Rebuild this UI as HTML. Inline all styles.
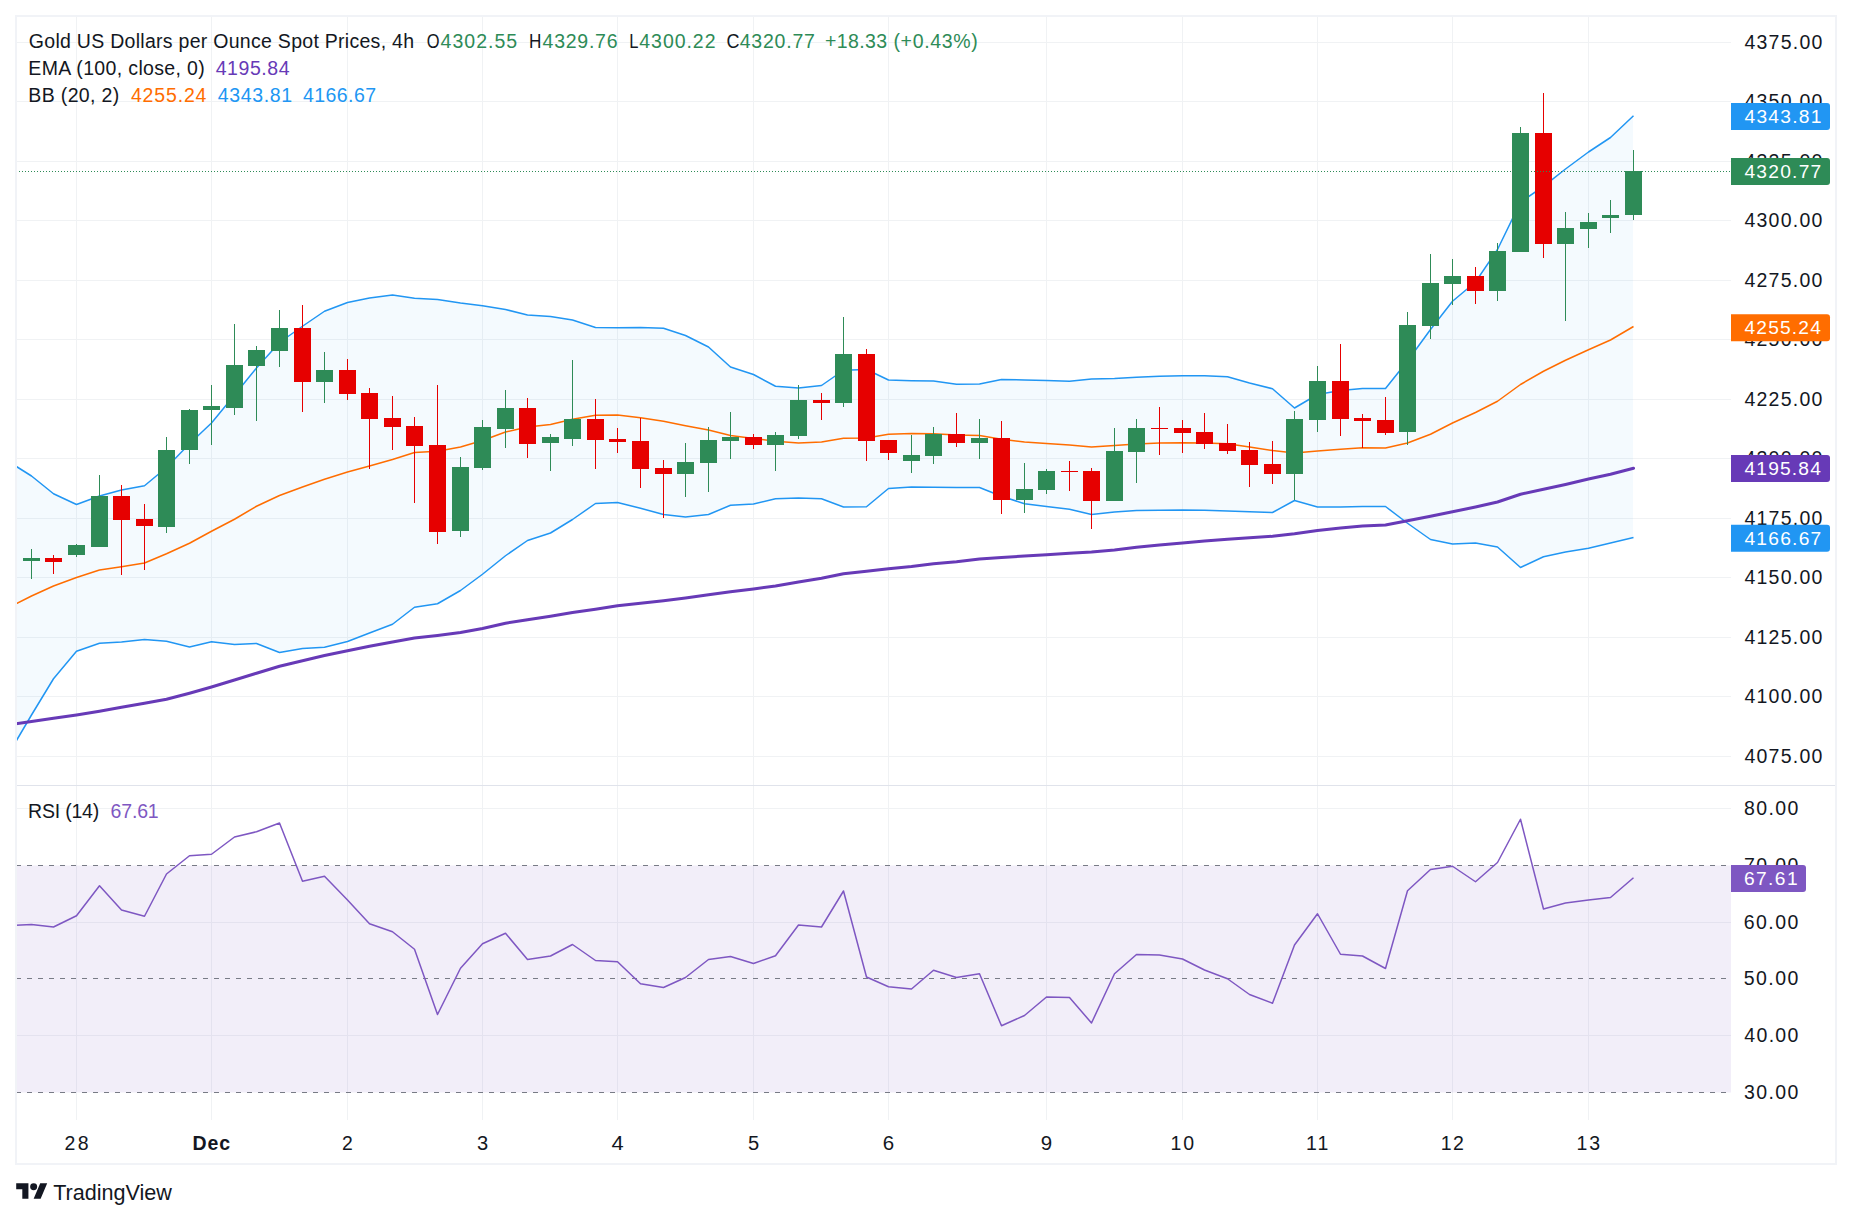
<!DOCTYPE html>
<html lang="en"><head><meta charset="utf-8"><title>Gold US Dollars per Ounce Spot Prices, 4h</title>
<style>
html,body{margin:0;padding:0;background:#fff;}
body{width:1852px;height:1220px;overflow:hidden;}
svg{display:block;}
text{font-family:"Liberation Sans", sans-serif;}
</style></head><body>
<svg width="1852" height="1220" viewBox="0 0 1852 1220">
<rect width="1852" height="1220" fill="#fff"/>
<defs>
<clipPath id="cm"><rect x="16" y="16" width="1715" height="769"/></clipPath>
<clipPath id="cr"><rect x="16" y="786" width="1715" height="334"/></clipPath>
</defs>

<g stroke="#f0f2f4" stroke-width="1" shape-rendering="crispEdges">
<line x1="76.5" y1="16" x2="76.5" y2="1120"/>
<line x1="211.5" y1="16" x2="211.5" y2="1120"/>
<line x1="347.5" y1="16" x2="347.5" y2="1120"/>
<line x1="482.5" y1="16" x2="482.5" y2="1120"/>
<line x1="617.5" y1="16" x2="617.5" y2="1120"/>
<line x1="753.5" y1="16" x2="753.5" y2="1120"/>
<line x1="888.5" y1="16" x2="888.5" y2="1120"/>
<line x1="1046.5" y1="16" x2="1046.5" y2="1120"/>
<line x1="1182.5" y1="16" x2="1182.5" y2="1120"/>
<line x1="1317.5" y1="16" x2="1317.5" y2="1120"/>
<line x1="1452.5" y1="16" x2="1452.5" y2="1120"/>
<line x1="1588.5" y1="16" x2="1588.5" y2="1120"/>
<line x1="16" y1="42.5" x2="1731" y2="42.5"/>
<line x1="16" y1="101.5" x2="1731" y2="101.5"/>
<line x1="16" y1="161.5" x2="1731" y2="161.5"/>
<line x1="16" y1="220.5" x2="1731" y2="220.5"/>
<line x1="16" y1="280.5" x2="1731" y2="280.5"/>
<line x1="16" y1="339.5" x2="1731" y2="339.5"/>
<line x1="16" y1="399.5" x2="1731" y2="399.5"/>
<line x1="16" y1="458.5" x2="1731" y2="458.5"/>
<line x1="16" y1="518.5" x2="1731" y2="518.5"/>
<line x1="16" y1="577.5" x2="1731" y2="577.5"/>
<line x1="16" y1="637.5" x2="1731" y2="637.5"/>
<line x1="16" y1="696.5" x2="1731" y2="696.5"/>
<line x1="16" y1="756.5" x2="1731" y2="756.5"/>
<line x1="16" y1="808.5" x2="1731" y2="808.5"/>
<line x1="16" y1="922.5" x2="1731" y2="922.5"/>
<line x1="16" y1="1035.5" x2="1731" y2="1035.5"/>
</g>
<g clip-path="url(#cm)">
<polygon points="16.00,466.25 31.50,476.00 53.50,493.75 76.50,504.50 99.50,496.00 121.50,490.00 144.50,485.75 166.50,467.50 189.50,443.75 211.50,423.00 234.50,395.00 256.50,368.00 279.50,342.50 302.50,326.25 324.50,311.25 347.50,302.50 369.50,298.00 392.50,295.00 414.50,298.25 437.50,299.50 460.50,303.00 482.50,305.75 505.50,309.50 527.50,315.00 550.50,316.50 572.50,320.00 595.50,327.50 617.50,327.75 640.50,327.50 663.50,328.25 685.50,335.50 708.50,347.00 730.50,367.00 753.50,374.50 775.50,386.25 798.50,388.00 821.50,385.50 843.50,370.25 866.50,369.50 888.50,380.00 911.50,380.75 933.50,381.00 956.50,384.25 979.50,384.00 1001.50,379.50 1024.50,380.00 1046.50,380.50 1069.50,381.25 1091.50,379.00 1114.50,378.50 1136.50,377.25 1159.50,376.25 1182.50,375.75 1204.50,375.75 1227.50,376.75 1249.50,383.00 1272.50,388.75 1294.50,408.00 1317.50,394.50 1340.50,390.50 1362.50,388.50 1385.50,388.50 1407.50,361.00 1430.50,329.50 1452.50,301.25 1475.50,282.00 1497.50,249.50 1520.50,202.20 1543.50,186.30 1565.50,169.00 1588.50,152.00 1610.50,137.50 1633.00,115.75 1633.00,537.50 1610.50,543.00 1588.50,548.25 1565.50,552.00 1543.50,556.75 1520.50,567.50 1497.50,547.00 1475.50,543.00 1452.50,544.00 1430.50,539.50 1407.50,523.25 1385.50,506.50 1362.50,506.50 1340.50,507.00 1317.50,507.00 1294.50,500.50 1272.50,512.50 1249.50,511.75 1227.50,511.00 1204.50,510.25 1182.50,510.00 1159.50,510.25 1136.50,510.50 1114.50,512.00 1091.50,514.50 1069.50,509.25 1046.50,506.50 1024.50,503.75 1001.50,496.25 979.50,487.50 956.50,487.50 933.50,487.25 911.50,487.00 888.50,488.50 866.50,506.75 843.50,507.00 821.50,498.75 798.50,498.00 775.50,498.75 753.50,504.00 730.50,505.25 708.50,514.50 685.50,517.00 663.50,514.50 640.50,508.25 617.50,502.50 595.50,503.50 572.50,519.50 550.50,533.00 527.50,540.50 505.50,555.75 482.50,574.25 460.50,590.50 437.50,603.75 414.50,607.25 392.50,624.25 369.50,633.00 347.50,641.50 324.50,647.25 302.50,648.50 279.50,652.50 256.50,643.50 234.50,644.50 211.50,641.75 189.50,647.00 166.50,641.25 144.50,639.50 121.50,642.00 99.50,643.25 76.50,651.25 53.50,678.75 31.50,715.00 16.00,741.25" fill="#2196f3" fill-opacity="0.05"/>
<polyline points="16.00,603.75 31.50,596.00 53.50,586.00 76.50,577.50 99.50,570.00 121.50,566.75 144.50,563.00 166.50,553.75 189.50,543.25 211.50,531.25 234.50,519.25 256.50,506.25 279.50,495.50 302.50,487.00 324.50,479.25 347.50,472.00 369.50,466.00 392.50,459.50 414.50,452.50 437.50,451.25 460.50,447.00 482.50,440.50 505.50,432.00 527.50,427.00 550.50,424.50 572.50,419.25 595.50,415.25 617.50,415.00 640.50,417.75 663.50,421.25 685.50,425.75 708.50,430.00 730.50,435.50 753.50,438.50 775.50,441.25 798.50,443.00 821.50,442.00 843.50,438.25 866.50,438.00 888.50,434.25 911.50,433.50 933.50,433.75 956.50,435.00 979.50,435.50 1001.50,439.25 1024.50,442.00 1046.50,443.50 1069.50,445.00 1091.50,447.00 1114.50,445.50 1136.50,444.00 1159.50,443.00 1182.50,442.75 1204.50,443.00 1227.50,443.75 1249.50,447.00 1272.50,450.50 1294.50,453.00 1317.50,451.00 1340.50,449.25 1362.50,447.75 1385.50,448.00 1407.50,443.00 1430.50,434.25 1452.50,423.00 1475.50,412.50 1497.50,401.25 1520.50,384.50 1543.50,371.25 1565.50,360.25 1588.50,349.75 1610.50,340.00 1633.50,326.50" fill="none" stroke="#ff6d00" stroke-width="1.5" stroke-linejoin="round"/>
<polyline points="16.00,466.25 31.50,476.00 53.50,493.75 76.50,504.50 99.50,496.00 121.50,490.00 144.50,485.75 166.50,467.50 189.50,443.75 211.50,423.00 234.50,395.00 256.50,368.00 279.50,342.50 302.50,326.25 324.50,311.25 347.50,302.50 369.50,298.00 392.50,295.00 414.50,298.25 437.50,299.50 460.50,303.00 482.50,305.75 505.50,309.50 527.50,315.00 550.50,316.50 572.50,320.00 595.50,327.50 617.50,327.75 640.50,327.50 663.50,328.25 685.50,335.50 708.50,347.00 730.50,367.00 753.50,374.50 775.50,386.25 798.50,388.00 821.50,385.50 843.50,370.25 866.50,369.50 888.50,380.00 911.50,380.75 933.50,381.00 956.50,384.25 979.50,384.00 1001.50,379.50 1024.50,380.00 1046.50,380.50 1069.50,381.25 1091.50,379.00 1114.50,378.50 1136.50,377.25 1159.50,376.25 1182.50,375.75 1204.50,375.75 1227.50,376.75 1249.50,383.00 1272.50,388.75 1294.50,408.00 1317.50,394.50 1340.50,390.50 1362.50,388.50 1385.50,388.50 1407.50,361.00 1430.50,329.50 1452.50,301.25 1475.50,282.00 1497.50,249.50 1520.50,202.20 1543.50,186.30 1565.50,169.00 1588.50,152.00 1610.50,137.50 1633.50,115.75" fill="none" stroke="#2196f3" stroke-width="1.5" stroke-linejoin="round"/>
<polyline points="16.00,741.25 31.50,715.00 53.50,678.75 76.50,651.25 99.50,643.25 121.50,642.00 144.50,639.50 166.50,641.25 189.50,647.00 211.50,641.75 234.50,644.50 256.50,643.50 279.50,652.50 302.50,648.50 324.50,647.25 347.50,641.50 369.50,633.00 392.50,624.25 414.50,607.25 437.50,603.75 460.50,590.50 482.50,574.25 505.50,555.75 527.50,540.50 550.50,533.00 572.50,519.50 595.50,503.50 617.50,502.50 640.50,508.25 663.50,514.50 685.50,517.00 708.50,514.50 730.50,505.25 753.50,504.00 775.50,498.75 798.50,498.00 821.50,498.75 843.50,507.00 866.50,506.75 888.50,488.50 911.50,487.00 933.50,487.25 956.50,487.50 979.50,487.50 1001.50,496.25 1024.50,503.75 1046.50,506.50 1069.50,509.25 1091.50,514.50 1114.50,512.00 1136.50,510.50 1159.50,510.25 1182.50,510.00 1204.50,510.25 1227.50,511.00 1249.50,511.75 1272.50,512.50 1294.50,500.50 1317.50,507.00 1340.50,507.00 1362.50,506.50 1385.50,506.50 1407.50,523.25 1430.50,539.50 1452.50,544.00 1475.50,543.00 1497.50,547.00 1520.50,567.50 1543.50,556.75 1565.50,552.00 1588.50,548.25 1610.50,543.00 1633.50,537.50" fill="none" stroke="#2196f3" stroke-width="1.5" stroke-linejoin="round"/>
<polyline points="16.00,723.75 31.50,721.50 53.50,718.25 76.50,715.00 99.50,711.25 121.50,707.25 144.50,703.25 166.50,699.25 189.50,693.25 211.50,687.00 234.50,680.00 256.50,673.25 279.50,666.25 302.50,660.75 324.50,655.50 347.50,650.75 369.50,646.25 392.50,642.00 414.50,638.00 437.50,635.50 460.50,632.50 482.50,628.50 505.50,623.25 527.50,619.75 550.50,616.25 572.50,612.50 595.50,609.25 617.50,605.75 640.50,603.25 663.50,600.75 685.50,598.00 708.50,594.75 730.50,591.75 753.50,589.00 775.50,586.00 798.50,582.00 821.50,578.25 843.50,573.75 866.50,571.25 888.50,568.75 911.50,566.50 933.50,563.75 956.50,561.75 979.50,559.00 1001.50,557.50 1024.50,556.00 1046.50,554.75 1069.50,553.25 1091.50,552.00 1114.50,550.00 1136.50,547.25 1159.50,545.00 1182.50,543.00 1204.50,541.00 1227.50,539.25 1249.50,537.75 1272.50,536.25 1294.50,533.75 1317.50,530.50 1340.50,528.00 1362.50,526.00 1385.50,525.00 1407.50,520.75 1430.50,516.25 1452.50,511.75 1475.50,507.00 1497.50,502.00 1520.50,494.25 1543.50,489.25 1565.50,484.50 1588.50,479.00 1610.50,474.25 1633.50,468.25" fill="none" stroke="#673ab7" stroke-width="3" stroke-linejoin="round" stroke-linecap="round"/>
<g shape-rendering="crispEdges">
<rect x="31.0" y="549" width="1" height="29.75" fill="#2e8b57"/>
<rect x="23.0" y="558" width="17" height="3" fill="#2e8b57"/>
<rect x="53.0" y="555" width="1" height="19" fill="#e60000"/>
<rect x="45.0" y="558" width="17" height="4" fill="#e60000"/>
<rect x="76.0" y="543.75" width="1" height="13.25" fill="#2e8b57"/>
<rect x="68.0" y="545" width="17" height="10" fill="#2e8b57"/>
<rect x="99.0" y="475" width="1" height="72" fill="#2e8b57"/>
<rect x="91.0" y="496" width="17" height="51" fill="#2e8b57"/>
<rect x="121.0" y="485" width="1" height="90" fill="#e60000"/>
<rect x="113.0" y="496" width="17" height="24" fill="#e60000"/>
<rect x="144.0" y="504" width="1" height="66" fill="#e60000"/>
<rect x="136.0" y="519" width="17" height="7" fill="#e60000"/>
<rect x="166.0" y="437" width="1" height="96" fill="#2e8b57"/>
<rect x="158.0" y="450" width="17" height="77" fill="#2e8b57"/>
<rect x="189.0" y="409" width="1" height="55" fill="#2e8b57"/>
<rect x="181.0" y="410" width="17" height="40" fill="#2e8b57"/>
<rect x="211.0" y="385" width="1" height="60" fill="#2e8b57"/>
<rect x="203.0" y="406" width="17" height="4" fill="#2e8b57"/>
<rect x="234.0" y="324" width="1" height="91" fill="#2e8b57"/>
<rect x="226.0" y="365" width="17" height="43" fill="#2e8b57"/>
<rect x="256.0" y="346" width="1" height="75" fill="#2e8b57"/>
<rect x="248.0" y="350" width="17" height="16" fill="#2e8b57"/>
<rect x="279.0" y="310" width="1" height="57" fill="#2e8b57"/>
<rect x="271.0" y="328" width="17" height="23" fill="#2e8b57"/>
<rect x="302.0" y="305" width="1" height="107" fill="#e60000"/>
<rect x="294.0" y="328" width="17" height="54" fill="#e60000"/>
<rect x="324.0" y="352" width="1" height="51" fill="#2e8b57"/>
<rect x="316.0" y="370" width="17" height="12" fill="#2e8b57"/>
<rect x="347.0" y="359" width="1" height="41" fill="#e60000"/>
<rect x="339.0" y="370" width="17" height="24" fill="#e60000"/>
<rect x="369.0" y="388" width="1" height="81" fill="#e60000"/>
<rect x="361.0" y="393" width="17" height="26" fill="#e60000"/>
<rect x="392.0" y="396" width="1" height="54" fill="#e60000"/>
<rect x="384.0" y="418" width="17" height="9" fill="#e60000"/>
<rect x="414.0" y="417" width="1" height="86" fill="#e60000"/>
<rect x="406.0" y="426" width="17" height="20" fill="#e60000"/>
<rect x="437.0" y="385" width="1" height="159" fill="#e60000"/>
<rect x="429.0" y="445" width="17" height="87" fill="#e60000"/>
<rect x="460.0" y="457" width="1" height="80" fill="#2e8b57"/>
<rect x="452.0" y="467" width="17" height="64" fill="#2e8b57"/>
<rect x="482.0" y="420" width="1" height="50" fill="#2e8b57"/>
<rect x="474.0" y="427" width="17" height="41" fill="#2e8b57"/>
<rect x="505.0" y="390" width="1" height="58" fill="#2e8b57"/>
<rect x="497.0" y="408" width="17" height="21" fill="#2e8b57"/>
<rect x="527.0" y="398" width="1" height="60" fill="#e60000"/>
<rect x="519.0" y="408" width="17" height="36" fill="#e60000"/>
<rect x="550.0" y="434" width="1" height="37" fill="#2e8b57"/>
<rect x="542.0" y="437" width="17" height="6" fill="#2e8b57"/>
<rect x="572.0" y="360" width="1" height="86" fill="#2e8b57"/>
<rect x="564.0" y="419" width="17" height="20" fill="#2e8b57"/>
<rect x="595.0" y="399" width="1" height="70" fill="#e60000"/>
<rect x="587.0" y="419" width="17" height="21" fill="#e60000"/>
<rect x="617.0" y="428" width="1" height="25" fill="#e60000"/>
<rect x="609.0" y="439" width="17" height="3" fill="#e60000"/>
<rect x="640.0" y="418" width="1" height="70" fill="#e60000"/>
<rect x="632.0" y="441" width="17" height="28" fill="#e60000"/>
<rect x="663.0" y="460" width="1" height="58" fill="#e60000"/>
<rect x="655.0" y="468" width="17" height="6" fill="#e60000"/>
<rect x="685.0" y="443" width="1" height="54" fill="#2e8b57"/>
<rect x="677.0" y="462" width="17" height="12" fill="#2e8b57"/>
<rect x="708.0" y="427" width="1" height="65" fill="#2e8b57"/>
<rect x="700.0" y="440" width="17" height="23" fill="#2e8b57"/>
<rect x="730.0" y="412" width="1" height="47" fill="#2e8b57"/>
<rect x="722.0" y="437" width="17" height="4" fill="#2e8b57"/>
<rect x="753.0" y="434" width="1" height="15" fill="#e60000"/>
<rect x="745.0" y="437" width="17" height="8" fill="#e60000"/>
<rect x="775.0" y="432" width="1" height="39" fill="#2e8b57"/>
<rect x="767.0" y="435" width="17" height="10" fill="#2e8b57"/>
<rect x="798.0" y="385" width="1" height="54" fill="#2e8b57"/>
<rect x="790.0" y="400" width="17" height="36" fill="#2e8b57"/>
<rect x="821.0" y="393" width="1" height="27" fill="#e60000"/>
<rect x="813.0" y="400" width="17" height="3" fill="#e60000"/>
<rect x="843.0" y="317" width="1" height="90" fill="#2e8b57"/>
<rect x="835.0" y="354" width="17" height="49" fill="#2e8b57"/>
<rect x="866.0" y="349" width="1" height="112" fill="#e60000"/>
<rect x="858.0" y="354" width="17" height="87" fill="#e60000"/>
<rect x="888.0" y="440" width="1" height="20" fill="#e60000"/>
<rect x="880.0" y="440" width="17" height="13" fill="#e60000"/>
<rect x="911.0" y="435" width="1" height="38" fill="#2e8b57"/>
<rect x="903.0" y="455" width="17" height="6" fill="#2e8b57"/>
<rect x="933.0" y="427" width="1" height="37" fill="#2e8b57"/>
<rect x="925.0" y="434" width="17" height="22" fill="#2e8b57"/>
<rect x="956.0" y="413" width="1" height="34" fill="#e60000"/>
<rect x="948.0" y="434" width="17" height="9" fill="#e60000"/>
<rect x="979.0" y="419" width="1" height="40" fill="#2e8b57"/>
<rect x="971.0" y="438" width="17" height="5" fill="#2e8b57"/>
<rect x="1001.0" y="421" width="1" height="93" fill="#e60000"/>
<rect x="993.0" y="438" width="17" height="62" fill="#e60000"/>
<rect x="1024.0" y="463" width="1" height="50" fill="#2e8b57"/>
<rect x="1016.0" y="489" width="17" height="11" fill="#2e8b57"/>
<rect x="1046.0" y="469" width="1" height="25" fill="#2e8b57"/>
<rect x="1038.0" y="471" width="17" height="19" fill="#2e8b57"/>
<rect x="1069.0" y="461" width="1" height="30" fill="#e60000"/>
<rect x="1061.0" y="471" width="17" height="1" fill="#e60000"/>
<rect x="1091.0" y="468" width="1" height="61" fill="#e60000"/>
<rect x="1083.0" y="471" width="17" height="30" fill="#e60000"/>
<rect x="1114.0" y="428" width="1" height="73" fill="#2e8b57"/>
<rect x="1106.0" y="451" width="17" height="50" fill="#2e8b57"/>
<rect x="1136.0" y="419" width="1" height="64" fill="#2e8b57"/>
<rect x="1128.0" y="428" width="17" height="24" fill="#2e8b57"/>
<rect x="1159.0" y="407" width="1" height="48" fill="#e60000"/>
<rect x="1151.0" y="428" width="17" height="1" fill="#e60000"/>
<rect x="1182.0" y="420" width="1" height="33" fill="#e60000"/>
<rect x="1174.0" y="428" width="17" height="5" fill="#e60000"/>
<rect x="1204.0" y="413" width="1" height="36" fill="#e60000"/>
<rect x="1196.0" y="432" width="17" height="12" fill="#e60000"/>
<rect x="1227.0" y="424" width="1" height="30" fill="#e60000"/>
<rect x="1219.0" y="443" width="17" height="8" fill="#e60000"/>
<rect x="1249.0" y="442" width="1" height="45" fill="#e60000"/>
<rect x="1241.0" y="450" width="17" height="15" fill="#e60000"/>
<rect x="1272.0" y="441" width="1" height="43" fill="#e60000"/>
<rect x="1264.0" y="464" width="17" height="10" fill="#e60000"/>
<rect x="1294.0" y="411" width="1" height="89" fill="#2e8b57"/>
<rect x="1286.0" y="419" width="17" height="55" fill="#2e8b57"/>
<rect x="1317.0" y="366" width="1" height="66" fill="#2e8b57"/>
<rect x="1309.0" y="381" width="17" height="39" fill="#2e8b57"/>
<rect x="1340.0" y="344" width="1" height="92" fill="#e60000"/>
<rect x="1332.0" y="381" width="17" height="38" fill="#e60000"/>
<rect x="1362.0" y="414" width="1" height="34" fill="#e60000"/>
<rect x="1354.0" y="418" width="17" height="3" fill="#e60000"/>
<rect x="1385.0" y="397" width="1" height="38" fill="#e60000"/>
<rect x="1377.0" y="420" width="17" height="13" fill="#e60000"/>
<rect x="1407.0" y="312" width="1" height="133" fill="#2e8b57"/>
<rect x="1399.0" y="325" width="17" height="107" fill="#2e8b57"/>
<rect x="1430.0" y="254" width="1" height="85" fill="#2e8b57"/>
<rect x="1422.0" y="283" width="17" height="43" fill="#2e8b57"/>
<rect x="1452.0" y="259" width="1" height="46" fill="#2e8b57"/>
<rect x="1444.0" y="276" width="17" height="8" fill="#2e8b57"/>
<rect x="1475.0" y="267" width="1" height="37" fill="#e60000"/>
<rect x="1467.0" y="276" width="17" height="15" fill="#e60000"/>
<rect x="1497.0" y="243" width="1" height="58" fill="#2e8b57"/>
<rect x="1489.0" y="251" width="17" height="40" fill="#2e8b57"/>
<rect x="1520.0" y="127" width="1" height="125" fill="#2e8b57"/>
<rect x="1512.0" y="133" width="17" height="119" fill="#2e8b57"/>
<rect x="1543.0" y="93" width="1" height="165" fill="#e60000"/>
<rect x="1535.0" y="133" width="17" height="111" fill="#e60000"/>
<rect x="1565.0" y="212" width="1" height="109" fill="#2e8b57"/>
<rect x="1557.0" y="228" width="17" height="16" fill="#2e8b57"/>
<rect x="1588.0" y="213" width="1" height="35" fill="#2e8b57"/>
<rect x="1580.0" y="222" width="17" height="7" fill="#2e8b57"/>
<rect x="1610.0" y="200" width="1" height="33" fill="#2e8b57"/>
<rect x="1602.0" y="215" width="17" height="3" fill="#2e8b57"/>
<rect x="1633.0" y="150" width="1" height="70" fill="#2e8b57"/>
<rect x="1625.0" y="171" width="17" height="44" fill="#2e8b57"/>
</g>
<line x1="16" y1="171.5" x2="1731" y2="171.5" stroke="#2e8b57" stroke-width="1" stroke-dasharray="1 2" shape-rendering="crispEdges"/>
</g>
<g clip-path="url(#cr)">
<rect x="16" y="865.5" width="1715" height="227.0" fill="#7e57c2" fill-opacity="0.1"/>
<line x1="16" y1="865.5" x2="1731" y2="865.5" stroke="#787b86" stroke-width="1" stroke-dasharray="5 6" shape-rendering="crispEdges"/>
<line x1="16" y1="978.5" x2="1731" y2="978.5" stroke="#787b86" stroke-width="1" stroke-dasharray="5 6" shape-rendering="crispEdges"/>
<line x1="16" y1="1092.5" x2="1731" y2="1092.5" stroke="#787b86" stroke-width="1" stroke-dasharray="5 6" shape-rendering="crispEdges"/>
<polyline points="16.00,925.25 31.50,924.50 53.50,927.00 76.50,915.75 99.50,885.75 121.50,910.00 144.50,916.25 166.50,874.00 189.50,855.75 211.50,854.25 234.50,837.00 256.50,831.75 279.50,823.00 302.50,881.25 324.50,876.25 347.50,900.00 369.50,923.75 392.50,931.75 414.50,949.25 437.50,1014.50 460.50,968.25 482.50,943.75 505.50,933.25 527.50,959.50 550.50,956.00 572.50,944.50 595.50,960.50 617.50,961.75 640.50,983.75 663.50,987.50 685.50,977.50 708.50,959.50 730.50,956.50 753.50,963.50 775.50,955.75 798.50,925.00 821.50,927.00 843.50,891.00 866.50,977.00 888.50,986.75 911.50,989.00 933.50,970.25 956.50,977.50 979.50,973.75 1001.50,1025.75 1024.50,1015.50 1046.50,997.00 1069.50,997.50 1091.50,1023.00 1114.50,973.75 1136.50,954.50 1159.50,955.00 1182.50,959.00 1204.50,970.00 1227.50,978.75 1249.50,994.50 1272.50,1003.25 1294.50,945.00 1317.50,913.75 1340.50,954.25 1362.50,956.00 1385.50,968.50 1407.50,890.75 1430.50,869.50 1452.50,866.25 1475.50,881.75 1497.50,862.50 1520.50,819.25 1543.50,909.00 1565.50,903.00 1588.50,900.00 1610.50,897.50 1633.50,877.75" fill="none" stroke="#7e57c2" stroke-width="1.5" stroke-linejoin="round"/>
</g>
<line x1="17" y1="785.5" x2="1835" y2="785.5" stroke="#e0e3eb" stroke-width="1" shape-rendering="crispEdges"/>
<rect x="16" y="16" width="1820" height="1148" fill="none" stroke="#f1f3f7" stroke-width="2" shape-rendering="crispEdges"/>
<text x="28.86" y="47.6" font-size="19.5" fill="#131722" textLength="385.15" lengthAdjust="spacing">Gold US Dollars per Ounce Spot Prices, 4h</text>
<text x="426.80" y="47.6" font-size="19.5" fill="#131722" textLength="12.80" lengthAdjust="spacingAndGlyphs">O</text>
<text x="440.61" y="47.6" font-size="19.5" fill="#2e8b57" textLength="76.47" lengthAdjust="spacing">4302.55</text>
<text x="528.90" y="47.6" font-size="19.5" fill="#131722" textLength="12.40" lengthAdjust="spacingAndGlyphs">H</text>
<text x="542.61" y="47.6" font-size="19.5" fill="#2e8b57" textLength="74.90" lengthAdjust="spacing">4329.76</text>
<text x="629.30" y="47.6" font-size="19.5" fill="#131722" textLength="9.20" lengthAdjust="spacingAndGlyphs">L</text>
<text x="639.31" y="47.6" font-size="19.5" fill="#2e8b57" textLength="76.22" lengthAdjust="spacing">4300.22</text>
<text x="726.50" y="47.6" font-size="19.5" fill="#131722" textLength="13.00" lengthAdjust="spacingAndGlyphs">C</text>
<text x="739.71" y="47.6" font-size="19.5" fill="#2e8b57" textLength="75.22" lengthAdjust="spacing">4320.77</text>
<text x="825.02" y="47.6" font-size="19.5" fill="#2e8b57" textLength="62.04" lengthAdjust="spacing">+18.33</text>
<text x="893.46" y="47.6" font-size="19.5" fill="#2e8b57" textLength="84.27" lengthAdjust="spacing">(+0.43%)</text>
<text x="28.34" y="74.5" font-size="19.5" fill="#131722" textLength="176.43" lengthAdjust="spacing">EMA (100, close, 0)</text>
<text x="215.71" y="74.5" font-size="19.5" fill="#673ab7" textLength="73.79" lengthAdjust="spacing">4195.84</text>
<text x="28.34" y="101.6" font-size="19.5" fill="#131722" textLength="90.93" lengthAdjust="spacing">BB (20, 2)</text>
<text x="130.91" y="101.6" font-size="19.5" fill="#ff6d00" textLength="75.51" lengthAdjust="spacing">4255.24</text>
<text x="217.81" y="101.6" font-size="19.5" fill="#2196f3" textLength="74.34" lengthAdjust="spacing">4343.81</text>
<text x="302.91" y="101.6" font-size="19.5" fill="#2196f3" textLength="73.19" lengthAdjust="spacing">4166.67</text>
<text x="28.09" y="817.5" font-size="19.5" fill="#131722" textLength="71.14" lengthAdjust="spacing">RSI (14)</text>
<text x="110.62" y="817.5" font-size="19.5" fill="#7e57c2" textLength="48.10" lengthAdjust="spacing">67.61</text>
<text x="1744.41" y="48.9" font-size="19.5" fill="#131722" textLength="78.03" lengthAdjust="spacing">4375.00</text>
<text x="1744.41" y="108.4" font-size="19.5" fill="#131722" textLength="78.03" lengthAdjust="spacing">4350.00</text>
<text x="1744.41" y="167.9" font-size="19.5" fill="#131722" textLength="78.03" lengthAdjust="spacing">4325.00</text>
<text x="1744.41" y="227.4" font-size="19.5" fill="#131722" textLength="78.03" lengthAdjust="spacing">4300.00</text>
<text x="1744.41" y="286.9" font-size="19.5" fill="#131722" textLength="78.03" lengthAdjust="spacing">4275.00</text>
<text x="1744.41" y="346.4" font-size="19.5" fill="#131722" textLength="78.03" lengthAdjust="spacing">4250.00</text>
<text x="1744.41" y="405.9" font-size="19.5" fill="#131722" textLength="78.03" lengthAdjust="spacing">4225.00</text>
<text x="1744.41" y="465.4" font-size="19.5" fill="#131722" textLength="78.03" lengthAdjust="spacing">4200.00</text>
<text x="1744.41" y="524.9" font-size="19.5" fill="#131722" textLength="78.03" lengthAdjust="spacing">4175.00</text>
<text x="1744.41" y="584.4" font-size="19.5" fill="#131722" textLength="78.03" lengthAdjust="spacing">4150.00</text>
<text x="1744.41" y="643.9" font-size="19.5" fill="#131722" textLength="78.03" lengthAdjust="spacing">4125.00</text>
<text x="1744.41" y="703.4" font-size="19.5" fill="#131722" textLength="78.03" lengthAdjust="spacing">4100.00</text>
<text x="1744.41" y="762.9" font-size="19.5" fill="#131722" textLength="78.03" lengthAdjust="spacing">4075.00</text>
<text x="1743.93" y="814.9" font-size="19.5" fill="#131722" textLength="54.45" lengthAdjust="spacing">80.00</text>
<text x="1743.90" y="871.8" font-size="19.5" fill="#131722" textLength="54.47" lengthAdjust="spacing">70.00</text>
<text x="1743.77" y="928.7" font-size="19.5" fill="#131722" textLength="54.60" lengthAdjust="spacing">60.00</text>
<text x="1743.73" y="985.1" font-size="19.5" fill="#131722" textLength="54.64" lengthAdjust="spacing">50.00</text>
<text x="1744.31" y="1041.9" font-size="19.5" fill="#131722" textLength="54.06" lengthAdjust="spacing">40.00</text>
<text x="1743.94" y="1098.8" font-size="19.5" fill="#131722" textLength="54.43" lengthAdjust="spacing">30.00</text>
<text x="64.45" y="1150" font-size="19.5" fill="#131722" textLength="24.09" lengthAdjust="spacing">28</text>
<text x="192.42" y="1150" font-size="19.5" fill="#131722" textLength="37.75" lengthAdjust="spacing" font-weight="bold">Dec</text>
<text x="342.10" y="1150" font-size="19.5" fill="#131722" textLength="10.80" lengthAdjust="spacingAndGlyphs">2</text>
<text x="476.90" y="1150" font-size="19.5" fill="#131722" textLength="11.20" lengthAdjust="spacingAndGlyphs">3</text>
<text x="611.40" y="1150" font-size="19.5" fill="#131722" textLength="12.20" lengthAdjust="spacingAndGlyphs">4</text>
<text x="747.90" y="1150" font-size="19.5" fill="#131722" textLength="11.20" lengthAdjust="spacingAndGlyphs">5</text>
<text x="882.80" y="1150" font-size="19.5" fill="#131722" textLength="11.40" lengthAdjust="spacingAndGlyphs">6</text>
<text x="1040.80" y="1150" font-size="19.5" fill="#131722" textLength="11.40" lengthAdjust="spacingAndGlyphs">9</text>
<text x="1170.41" y="1150" font-size="19.5" fill="#131722" textLength="23.67" lengthAdjust="spacing">10</text>
<text x="1306.06" y="1150" font-size="19.5" fill="#131722" textLength="22.24" lengthAdjust="spacing">11</text>
<text x="1440.66" y="1150" font-size="19.5" fill="#131722" textLength="23.12" lengthAdjust="spacing">12</text>
<text x="1576.41" y="1150" font-size="19.5" fill="#131722" textLength="23.67" lengthAdjust="spacing">13</text>
<text x="53.21" y="1199.7" font-size="21.6" fill="#131722" textLength="118.65" lengthAdjust="spacing">TradingView</text>
<path d="M1731 103.0h96a3 3 0 0 1 3 3v21a3 3 0 0 1 -3 3h-96z" fill="#2196f3"/>
<path d="M1731 158.0h96a3 3 0 0 1 3 3v21a3 3 0 0 1 -3 3h-96z" fill="#2e8b57"/>
<path d="M1731 314.3h96a3 3 0 0 1 3 3v21a3 3 0 0 1 -3 3h-96z" fill="#ff6d00"/>
<path d="M1731 455.0h96a3 3 0 0 1 3 3v21a3 3 0 0 1 -3 3h-96z" fill="#673ab7"/>
<path d="M1731 524.7h96a3 3 0 0 1 3 3v21a3 3 0 0 1 -3 3h-96z" fill="#2196f3"/>
<path d="M1731 865.0h72a3 3 0 0 1 3 3v21a3 3 0 0 1 -3 3h-72z" fill="#7e57c2"/>
<text x="1744.47" y="123.0" font-size="19.2" fill="#fff" textLength="76.85" lengthAdjust="spacing">4343.81</text>
<text x="1744.47" y="178.0" font-size="19.2" fill="#fff" textLength="76.73" lengthAdjust="spacing">4320.77</text>
<text x="1744.47" y="334.3" font-size="19.2" fill="#fff" textLength="76.37" lengthAdjust="spacing">4255.24</text>
<text x="1744.47" y="475.0" font-size="19.2" fill="#fff" textLength="76.37" lengthAdjust="spacing">4195.84</text>
<text x="1744.47" y="544.7" font-size="19.2" fill="#fff" textLength="76.73" lengthAdjust="spacing">4166.67</text>
<text x="1743.97" y="885.0" font-size="19.2" fill="#fff" textLength="53.65" lengthAdjust="spacing">67.61</text>
<g fill="#131722" transform="translate(16.2,1179.9) scale(0.873,0.855)"><path d="M14 22H7V11H0V4h14v18zM28 22h-8l7.5-18h8L28 22z"/><circle cx="20" cy="8" r="4"/></g>
</svg></body></html>
